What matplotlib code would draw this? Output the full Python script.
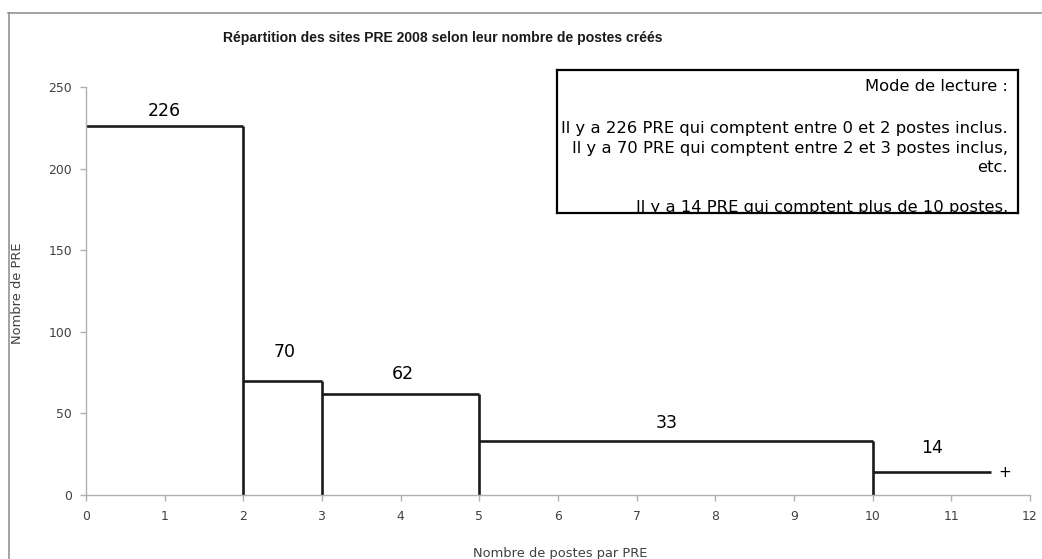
import matplotlib
matplotlib.use("Agg")
import matplotlib.pyplot as plt
from matplotlib.lines import Line2D

# Data
bin_edges = [0, 2, 3, 5, 10, 11.5]
counts = [226, 70, 62, 33, 14]
label_texts = ["226", "70", "62", "33", "14"]
label_x = [1.0, 2.52, 4.03, 7.38, 10.76]
label_y = [235, 87.6, 74, 44, 29]
x_ticks = list(range(0, 13))
y_ticks = [0, 50, 100, 150, 200, 250]

title = "Répartition des sites PRE 2008 selon leur nombre de postes créés"
xlabel = "Nombre de postes par PRE"
ylabel = "Nombre de PRE"
note_lines = [
    "Mode de lecture :",
    "",
    "Il y a 226 PRE qui comptent entre 0 et 2 postes inclus.",
    "Il y a 70 PRE qui comptent entre 2 et 3 postes inclus,",
    "etc.",
    "",
    "Il y a 14 PRE qui comptent plus de 10 postes.",
]

W, H = 1042, 559
fig = plt.figure(figsize=(W / 100, H / 100), dpi=100)

def fx(px):
    return px / W

def fy(py):
    return 1 - py / H

# figure frame (top and left lines)
fig.add_artist(Line2D([fx(8), 1], [fy(12.5), fy(12.5)], color="#8a8a8a", lw=1.1))
fig.add_artist(Line2D([fx(8.5), fx(8.5)], [0, fy(12.5)], color="#8a8a8a", lw=1.1))

ax = fig.add_axes([fx(86), fy(495), fx(1030) - fx(86), fy(87) - fy(495)])
line_color = "#1a1a1a"
lw = 1.9
for i, c in enumerate(counts):
    x0, x1 = bin_edges[i], bin_edges[i + 1]
    ax.plot([x0, x1], [c, c], color=line_color, lw=lw, solid_capstyle="butt")
    if i < len(counts) - 1:
        ax.plot([x1, x1], [0, c], color=line_color, lw=lw, solid_capstyle="butt")

for t, x, y in zip(label_texts, label_x, label_y):
    ax.text(x, y, t, ha="center", va="center", fontsize=12.5, color="black")
ax.text(11.68, counts[-1], "+", ha="center", va="center", fontsize=11, color="black")

ax.set_xlim(0, 12)
ax.set_ylim(0, 250)
ax.set_xticks(x_ticks)
ax.set_yticks(y_ticks)
for s in ["top", "right"]:
    ax.spines[s].set_visible(False)
for s in ["left", "bottom"]:
    ax.spines[s].set_color("#b0b0b0")
    ax.spines[s].set_linewidth(1.0)
ax.tick_params(axis="both", direction="out", length=4, color="#b0b0b0",
               labelsize=8.9, labelcolor="#404040", width=1.0)
ax.tick_params(axis="x", pad=7)
ax.tick_params(axis="y", pad=6)

fig.text(fx(443), fy(38), title, ha="center", va="center", fontsize=10.1,
         fontweight="bold", family="Liberation Sans", color="#1a1a1a")
fig.text(fx(560), fy(553), xlabel, ha="center", va="center", fontsize=9.4,
         color="#404040")
fig.text(fx(18), fy(293), ylabel, ha="center", va="center", fontsize=9.4,
         rotation=90, color="#404040")

# note box
bx = fig.add_axes([fx(557), fy(213), fx(1018) - fx(557), fy(70) - fy(213)])
bx.set_xlim(0, 1)
bx.set_ylim(0, 1)
bx.set_xticks([])
bx.set_yticks([])
for s in bx.spines.values():
    s.set_color("black")
    s.set_linewidth(1.6)
bx.patch.set_facecolor("white")
box_h = 213 - 70
box_w = 1018 - 557
line_y_px = [87, 107, 129, 149, 168, 187, 207.5]
for txt, py in zip(note_lines, line_y_px):
    if not txt:
        continue
    bx.text((1008 - 557) / box_w, 1 - (py - 70) / box_h, txt, ha="right",
            va="center", fontsize=11.8, color="black", clip_on=True)

fig.savefig("out.png", dpi=100, facecolor="white")
